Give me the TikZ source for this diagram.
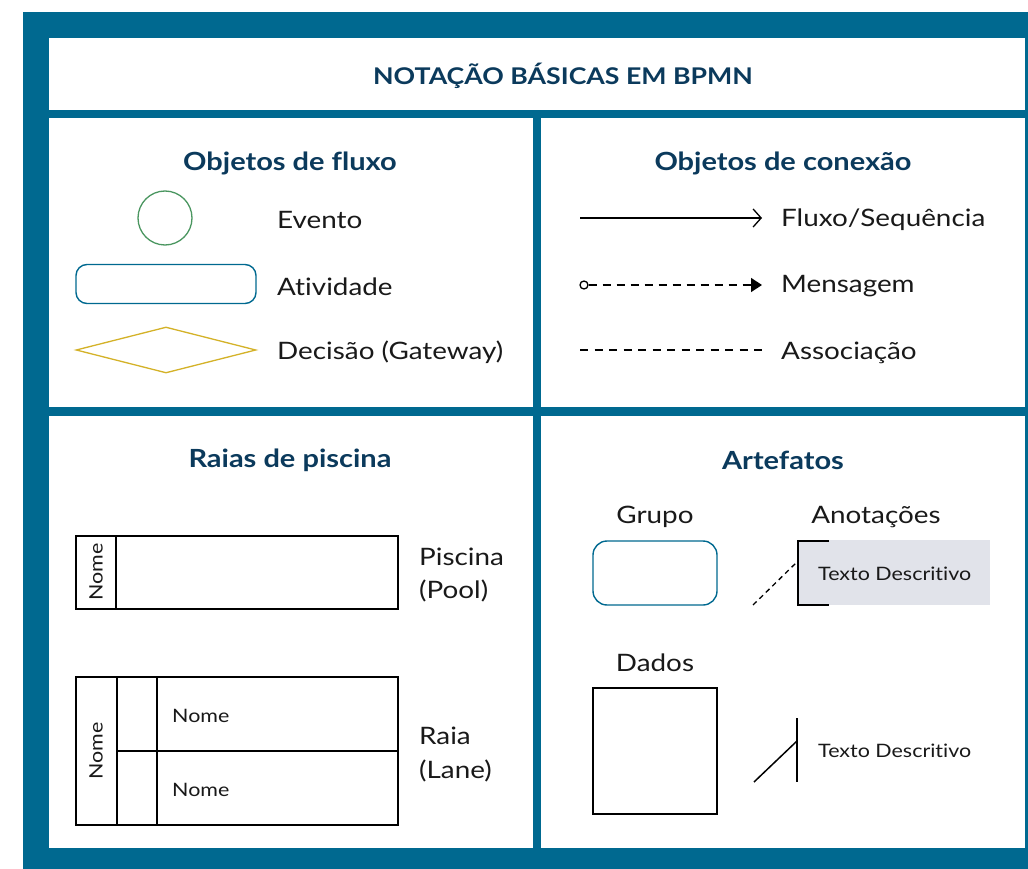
\documentclass[tikz,border=0pt]{standalone}
\usepackage{fontspec}
\setmainfont{Lato}[FakeStretch=1.16,Ligatures=NoCommon]
\usetikzlibrary{arrows.meta,shapes.geometric}
\definecolor{frame}{RGB}{0,105,144}
\definecolor{navy}{RGB}{11,58,92}
\definecolor{evgreen}{RGB}{74,150,96}
\definecolor{gwgold}{RGB}{212,178,40}
\definecolor{annot}{RGB}{225,227,234}
\definecolor{ink}{RGB}{25,25,25}
\begin{document}
\begin{tikzpicture}[x=1pt,y=-1pt,
  heading/.style={font=\bfseries\fontsize{25}{29}\selectfont,text=navy},
  lbl/.style={font=\fontsize{24}{28}\selectfont,text=ink,anchor=west,inner sep=0pt},
  clbl/.style={font=\fontsize{24}{28}\selectfont,text=ink,inner sep=0pt},
  smalltxt/.style={font=\fontsize{18.5}{22}\selectfont,text=ink,inner sep=0pt},
  lanebox/.style={draw=black,line width=1.6pt},
  conn/.style={line width=1.3pt,draw=black}]
\useasboundingbox (0,0) rectangle (1028,869);
% frame and panels
\fill[frame] (23,12) rectangle (1028,869);
\fill[white] (49,38) rectangle (1025,110);
\fill[white] (49,118) rectangle (533,407);
\fill[white] (541,118) rectangle (1025,407);
\fill[white] (49,416) rectangle (533,848);
\fill[white] (541,416) rectangle (1025,848);
% title
\node[font=\bfseries\fontsize{23}{27}\selectfont,text=navy] (title) at (563,76) {NOTAÇÃO BÁSICAS EM BPMN};
% --- Objetos de fluxo
\node[heading] (hfluxo) at (290,163.5) {Objetos de fluxo};
\node[circle,draw=evgreen,line width=1.3pt,minimum size=54pt,inner sep=0pt] (ev) at (165,218) {};
\node[rectangle,rounded corners=11pt,draw=frame,line width=1.4pt,minimum width=180pt,minimum height=39pt] (act) at (166,284) {};
\node[diamond,draw=gwgold,line width=1.3pt,minimum width=180pt,minimum height=46pt,inner sep=0pt] (gw) at (166,350) {};
\node[lbl] (tev) at (277,219.5) {Evento};
\node[lbl] (tact) at (277,286.5) {Atividade};
\node[lbl] (tgw) at (277,352.5) {Decisão (Gateway)};
% --- Objetos de conexão
\node[heading] (hcon) at (783,163.5) {Objetos de conexão};
\coordinate (s1) at (580,218); \coordinate (e1) at (762,218);
\draw[conn,-{Straight Barb[length=8pt,width=18pt,line width=1.3pt]}] (s1) -- (e1);
\node[circle,draw=black,line width=1.3pt,minimum size=8pt,inner sep=0pt] (m0) at (584,285) {};
\coordinate (e2) at (762,285);
\draw[conn,dash pattern=on 8pt off 6pt,-{Triangle[length=11pt,width=14pt]}] (m0) -- (e2);
\coordinate (s3) at (580,350); \coordinate (e3) at (762,350);
\draw[conn,dash pattern=on 8pt off 6.5pt] (s3) -- (e3);
\node[lbl] (tflx) at (781,219.5) {Fluxo/Sequência};
\node[lbl] (tmsg) at (781,286.5) {Mensagem};
\node[lbl] (tass) at (781,352.5) {Associação};
% --- Raias de piscina
\node[heading] (hraia) at (290,460.5) {Raias de piscina};
\draw[lanebox] (76,536) rectangle (398,609);
\draw[lanebox] (116,536) -- (116,609);
\node[smalltxt,rotate=90] (pnome) at (96,572) {Nome};
\node[lbl] (tpis) at (419,557) {Piscina};
\node[lbl] (tpool) at (419,591) {(Pool)};
\draw[lanebox] (76,677) rectangle (398,825);
\draw[lanebox] (117,677) -- (117,825);
\draw[lanebox] (157,677) -- (157,825);
\draw[lanebox] (117,751) -- (398,751);
\node[smalltxt,rotate=90] (lnome) at (96,751) {Nome};
\node[smalltxt,anchor=west] (ln1) at (172,715.5) {Nome};
\node[smalltxt,anchor=west] (ln2) at (172,789.5) {Nome};
\node[lbl] (traia) at (419,736) {Raia};
\node[lbl] (tlane) at (419,771) {(Lane)};
% --- Artefatos
\node[heading] (hart) at (783,460.5) {Artefatos};
\node[clbl] (tgrupo) at (655,517) {Grupo};
\node[rectangle,rounded corners=14pt,draw=frame,line width=1.4pt,minimum width=124pt,minimum height=64pt] (grp) at (655,573) {};
\node[clbl] (tanot) at (876,517) {Anotações};
\node[rectangle,fill=annot,minimum width=192pt,minimum height=65pt,inner sep=0pt] (anbox) at (894,572.5) {};
\draw[line width=1.6pt] (829,541) -- (798,541) -- (798,605) -- (829,605);
\coordinate (an1) at (798,561);
\coordinate (an0) at (753,605);
\draw[line width=1.3pt,dash pattern=on 5pt off 4pt] (an0) -- (an1);
\node[smalltxt,anchor=west] (tdesc1) at (818,574) {Texto Descritivo};
\node[clbl] (tdados) at (655,663) {Dados};
\node[rectangle,draw=black,line width=1.6pt,minimum width=124pt,minimum height=126pt] (dados) at (655,751) {};
\coordinate (v0) at (797,718); \coordinate (v1) at (797,782);
\draw[line width=1.6pt] (v0) -- (v1);
\coordinate (d0) at (754,782); \coordinate (d1) at (797,741);
\draw[line width=1.5pt] (d0) -- (d1);
\node[smalltxt,anchor=west] (tdesc2) at (818,751) {Texto Descritivo};
\end{tikzpicture}
\end{document}
